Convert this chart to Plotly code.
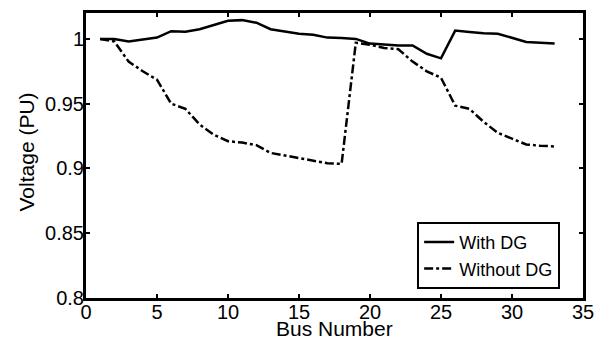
import plotly.graph_objects as go

bus = list(range(1, 34))
with_dg = [1.000, 1.000, 0.998, 0.9995, 1.001, 1.006, 1.0055, 1.0075, 1.0108, 1.014,
           1.0145, 1.0125, 1.0075, 1.0055, 1.004, 1.0032, 1.001, 1.0007, 1.000, 0.9964,
           0.9957, 0.995, 0.995, 0.9885, 0.985, 1.0064, 1.0054, 1.0044, 1.004, 1.0007,
           0.9977, 0.997, 0.9964]
without_dg = [1.000, 0.998, 0.9825, 0.975, 0.9685, 0.950, 0.946, 0.934, 0.926, 0.921,
              0.920, 0.918, 0.912, 0.910, 0.908, 0.906, 0.904, 0.9035, 0.997, 0.9955,
              0.993, 0.992, 0.9825, 0.975, 0.970, 0.9485, 0.946, 0.936, 0.9275, 0.923,
              0.9185, 0.9175, 0.917]
x_ticks = [0, 5, 10, 15, 20, 25, 30, 35]
y_ticks = [0.8, 0.85, 0.9, 0.95, 1.0]
y_tick_labels = ["0.8", "0.85", "0.9", "0.95", "1"]

FONT = "Liberation Sans, Arial"

fig = go.Figure()
fig.add_trace(go.Scatter(x=bus, y=with_dg, mode="lines", name="With DG",
                         line=dict(color="black", width=2.5)))
fig.add_trace(go.Scatter(x=bus, y=without_dg, mode="lines", name="Without DG",
                         line=dict(color="black", width=2.5, dash="dashdot")))

axis_common = dict(showline=True, linecolor="black", linewidth=3, mirror="ticks",
                   ticks="inside", ticklen=4, tickwidth=2, tickcolor="black",
                   showgrid=False, zeroline=False, automargin=False,
                   tickfont=dict(family=FONT, size=20, color="black"))

fig.update_xaxes(range=[0, 35], tickvals=x_ticks, ticklabelstandoff=-6, **axis_common)
fig.update_yaxes(range=[0.8, 1.02], tickvals=y_ticks, ticktext=y_tick_labels,
                 ticklabelstandoff=-5, **axis_common)

fig.add_annotation(text="Bus Number", xref="paper", yref="paper",
                   x=0.5, y=0, yshift=-18, xanchor="center", yanchor="top",
                   borderpad=0,
                   showarrow=False, font=dict(family=FONT, size=21, color="black"))
fig.add_annotation(text="Voltage (PU)", xref="paper", yref="paper",
                   x=0, y=0.5, xshift=-60, yshift=3, xanchor="center", yanchor="middle",
                   textangle=-90, showarrow=False,
                   font=dict(family=FONT, size=21, color="black"))

fig.update_layout(
    width=596, height=333,
    margin=dict(l=78, r=21, t=5, b=43),
    paper_bgcolor="white", plot_bgcolor="white",
    font=dict(family=FONT, size=20, color="black"),
    showlegend=True,
    legend=dict(x=0.954, y=0.032, xanchor="right", yanchor="bottom",
                bgcolor="white", bordercolor="black", borderwidth=2,
                font=dict(size=18), tracegroupgap=0, itemwidth=30),
)

fig.write_html("out.html")
